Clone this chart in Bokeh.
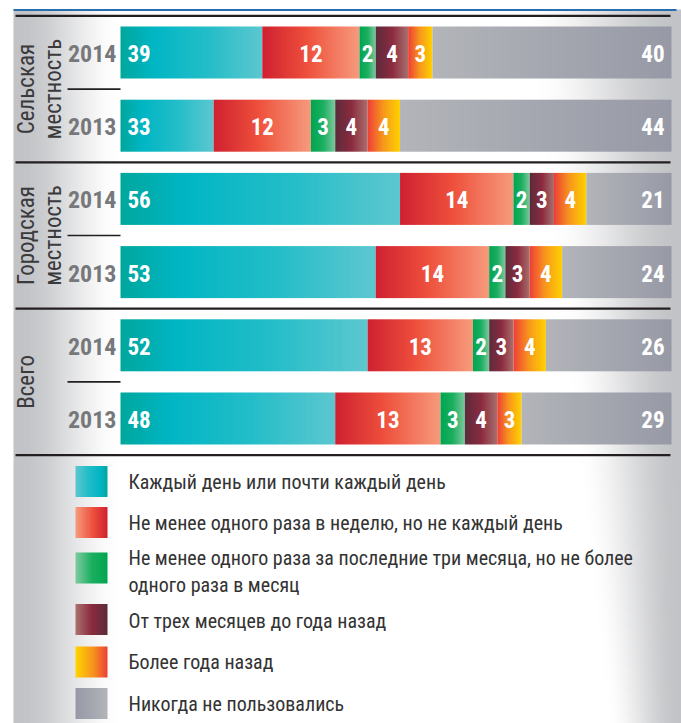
import numpy as np
from bokeh.plotting import figure
from bokeh.models import Range1d
from bokeh.core.properties import value
from bokeh.embed import file_html
from bokeh.resources import INLINE

# ---------------- data ----------------
group_labels = ["Сельская\nместность", "Городская\nместность", "Всего"]
group_sizes = [2, 2, 2]
years = ["2014", "2013", "2014", "2013", "2014", "2013"]
categories = [
    "Каждый день или почти каждый день",
    "Не менее одного раза в неделю, но не каждый день",
    "Не менее одного раза за последние три месяца, но не более\nодного раза в месяц",
    "От трех месяцев до года назад",
    "Более года назад",
    "Никогда не пользовались",
]
daily = [39, 33, 56, 53, 52, 48]
weekly = [12, 12, 14, 14, 13, 13]
monthly = [2, 3, 2, 2, 2, 3]
year_ago = [4, 4, 3, 3, 3, 4]
older = [3, 4, 4, 4, 4, 3]
never = [40, 44, 21, 24, 26, 29]
series = [daily, weekly, monthly, year_ago, older, never]

# visible window of the cumulative-percent axis (the original chart truncates it)
X_MIN, X_MAX = 21.5, 89.5

# ---------------- styles ----------------
FONT = ("Roboto Condensed, Liberation Sans Narrow, Noto Sans Condensed, "
        "DejaVu Sans Condensed, Arial Narrow, sans-serif")
STOPS = [
    [(0.0, "#00a79d"), (0.22, "#00b5c3"), (0.6, "#22bdc8"), (1.0, "#5dc7cf")],
    [(0.0, "#cf2131"), (0.45, "#ee4f3b"), (1.0, "#f69b7d")],
    [(0.0, "#00a651"), (0.5, "#1daf61"), (1.0, "#7ecaa0")],
    [(0.0, "#5c2b3b"), (0.5, "#8c2b3f"), (1.0, "#a9726f")],
    [(0.0, "#ee3f37"), (0.45, "#f7941e"), (1.0, "#ffd400")],
    [(0.0, "#b2b4b9"), (1.0, "#979aa6")],
]

# ---------------- geometry (page pixels) ----------------
W, H = 681, 723
OX, OY = 0, 0
BAR_L, BAR_R = 120, 671
ROW0, PITCH = 52, 73.2
BAR_H = 52 / PITCH
s = (BAR_R - BAR_L) / (X_MAX - X_MIN)
x_start = X_MIN - (BAR_L - OX) / s
x_end = x_start + W / s


def px(xp):
    return x_start + (xp - OX) / s


def py(yp):
    return -(yp - ROW0) / PITCH


p = figure(width=W, height=H, x_range=Range1d(x_start, x_end),
           y_range=Range1d(py(OY + H), py(OY)), output_backend="svg",
           toolbar_location=None, x_axis_location=None, y_axis_location=None,
           min_border=0)
p.grid.visible = False
p.outline_line_color = None
p.background_fill_color = "white"
p.border_fill_color = "white"


def hex2rgb(h):
    h = h.lstrip("#")
    return [int(h[i:i + 2], 16) for i in (0, 2, 4)]


def rgba_image(rgb):
    ny, nx = rgb.shape[:2]
    img = np.empty((ny, nx), dtype=np.uint32)
    view = img.view(dtype=np.uint8).reshape((ny, nx, 4))
    view[:, :, 0:3] = np.round(rgb).astype(np.uint8)
    view[:, :, 3] = 255
    return img


def gradient_img(stops, n=160, reverse=False):
    t = np.linspace(0, 1, n)
    if reverse:
        t = 1 - t
    pos = [a for a, _ in stops]
    cols = np.array([hex2rgb(c) for _, c in stops], float)
    rgb = np.stack([np.interp(t, pos, cols[:, k]) for k in range(3)], axis=-1)
    return rgba_image(rgb[None, :, :])


# ---------------- background panel ----------------
cell = 3
xs = np.arange(13, 681, cell) + cell / 2
ys = np.arange(723, 11, -cell) - cell / 2
X, Y = np.meshgrid(xs, ys)
left = np.clip((122 - X) / 105, 0, 1)
xr = 520 + 0.12 * Y
right = np.clip((X - xr) / (680 - xr), 0, 1)
g = np.maximum(left, right)
g = g * g * (3 - 2 * g)
white = np.array([255.0, 255.0, 255.0])
dark = np.array([194.0, 195.0, 198.0])
bg = white[None, None, :] * (1 - g[..., None]) + dark[None, None, :] * g[..., None]
top_px = 723 - len(ys) * cell
p.image_rgba(image=[rgba_image(bg)], x=px(13), y=py(723),
             dw=len(xs) * cell / s, dh=py(top_px) - py(723))

# ---------------- bars ----------------
n_rows = len(years)
imgs, bx, by, bw, bh = [], [], [], [], []
lab = {"left": ([], [], []), "center": ([], [], []), "right": ([], [], [])}
for i in range(n_rows):
    cum = 0.0
    for k, ser in enumerate(series):
        v = ser[i]
        a, b = cum, cum + v
        cum = b
        va, vb = np.clip(a, X_MIN, X_MAX), np.clip(b, X_MIN, X_MAX)
        if vb <= va:
            continue
        imgs.append(gradient_img(STOPS[k]))
        bx.append(va)
        bw.append(vb - va)
        by.append(-i - BAR_H / 2)
        bh.append(BAR_H)
        if k == 0:
            key, lx = "left", va
        elif k == len(series) - 1:
            key, lx = "right", vb
        else:
            key, lx = "center", (va + vb) / 2
        lab[key][0].append(lx)
        lab[key][1].append(-i)
        lab[key][2].append(str(v))

p.image_rgba(image=imgs, x=bx, y=by, dw=bw, dh=bh)

offsets = {"left": 7, "center": 0, "right": -7}
for key, (lx, ly, lt) in lab.items():
    p.text(x=lx, y=ly, text=lt, text_align=key, text_baseline="middle",
           x_offset=offsets[key], y_offset=1,
           text_font=value(FONT), text_font_size="23px",
           text_font_style="bold", text_color="white")

# year labels
p.text(x=[px(116)] * n_rows, y=[-i for i in range(n_rows)], text=years,
       text_align="right", text_baseline="middle", y_offset=1,
       text_font=value(FONT), text_font_size="24px", text_font_style="bold",
       text_color="#77787b")

# group labels, separators
starts = np.cumsum([0] + group_sizes[:-1])
gy = [-(st + (sz - 1) / 2) for st, sz in zip(starts, group_sizes)]
p.text(x=[px(12)] * len(group_labels), y=gy, text=group_labels, angle=np.pi / 2,
       text_align="center", text_baseline="top", text_line_height=1.0,
       text_font=value(FONT), text_font_size="23px", text_color="#3a3a3c")

bounds = [0] + list(np.cumsum(group_sizes))
p.segment(x0=px(15), x1=px(670), y0=[-(b - 0.5) for b in bounds],
          y1=[-(b - 0.5) for b in bounds], line_color="#231f20", line_width=2.2)
inner = [-(st + 0.5) for st, sz in zip(starts, group_sizes) for j in range(sz - 1)]
p.segment(x0=px(67), x1=px(120), y0=inner, y1=inner,
          line_color="#231f20", line_width=1.6)

# top blue rule
p.segment(x0=[px(13)], x1=[px(676)], y0=[py(9.5)], y1=[py(9.5)],
          line_color="#2a6cae", line_width=2.2)

# ---------------- legend ----------------
LEG_Y = [481, 522, 567.5, 619, 661.5, 703]
LEG_TEXT_Y = [481, 522, 571, 620, 661.5, 703]
SW_L, SW_R, SW_H = 75, 107, 31
p.image_rgba(image=[gradient_img(st, reverse=True) for st in STOPS],
             x=[px(SW_L)] * len(LEG_Y), y=[py(c + SW_H / 2) for c in LEG_Y],
             dw=[(SW_R - SW_L) / s] * len(LEG_Y), dh=[SW_H / PITCH] * len(LEG_Y))
p.text(x=[px(128)] * len(categories), y=[py(c) for c in LEG_TEXT_Y], text=categories,
       text_align="left", text_baseline="middle", text_line_height=1.1,
       text_font=value(FONT), text_font_size="20px", text_color="#333333")

open("out.html", "w").write(file_html(p, INLINE))
